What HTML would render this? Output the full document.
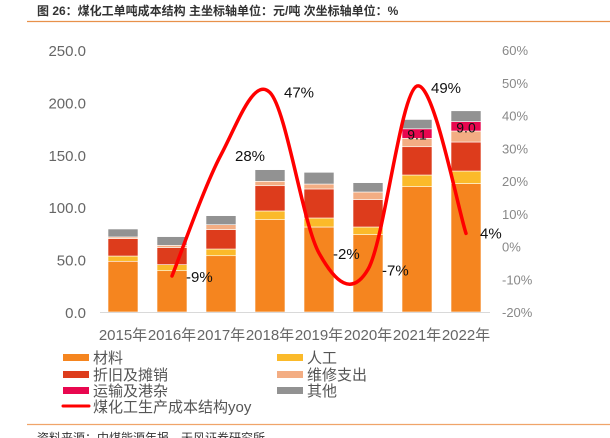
<!DOCTYPE html>
<html><head><meta charset="utf-8"><style>
body{margin:0;background:#fff;width:610px;height:438px;overflow:hidden;font-family:"Liberation Sans","Noto Sans CJK SC",sans-serif}
svg{position:absolute;left:0;top:0}
</style></head><body>
<svg id="c" width="610" height="438">
<text x="37" y="15" font-size="12" font-weight="bold" fill="#333">图 26：煤化工单吨成本结构  主坐标轴单位：元/吨  次坐标轴单位：%</text>
<line x1="27" y1="21.5" x2="610" y2="21.5" stroke="#e8914a" stroke-width="1.2"/>
<line x1="27" y1="424.5" x2="610" y2="424.5" stroke="#f0a46a" stroke-width="1.2"/>
<text x="37" y="442" font-size="12" fill="#333">资料来源：中煤能源年报，天风证券研究所</text>
<g id="g"></g>
</svg>
<script>
const years=["2015年","2016年","2017年","2018年","2019年","2020年","2021年","2022年"];
const material=[48.4,39.4,53.7,88.1,81.1,73.8,119.6,122.5];
const labor=[5,5.8,6.4,8.3,8.6,7.3,11.1,12];
const depreciation=[16.6,16.2,18.5,24.1,27.7,26.1,27,27.7];
const maintenance=[1.6,2.2,4.7,4.2,4.7,7.3,8,10.5];
const transport=[0,0,0,0,0,0,9.1,9.0];
const other=[7.6,8.3,8.6,11.1,11.2,8.9,8.9,10.3];
const yoy=[null,-9,28,47,-2,-7,49,4];
const leftTicks=["0.0","50.0","100.0","150.0","200.0","250.0"];
const rightTicks=["-20%","-10%","0%","10%","20%","30%","40%","50%","60%"];
const NS="http://www.w3.org/2000/svg",g=document.getElementById('g');
function el(t,a,txt){const e=document.createElementNS(NS,t);for(const k in a)e.setAttribute(k,a[k]);if(txt!=null)e.textContent=txt;g.appendChild(e);return e;}
const y0=312,ppu=262/250;
const yL=v=>y0-v*ppu;
const yR=p=>y0-(p+20)*262/80;
const xC=i=>123+i*49;
leftTicks.forEach((t,i)=>{const e=el('text',{x:86,y:yL(i*50)+6,'font-size':15,fill:'#666','text-anchor':'end'},t);

});
rightTicks.forEach((t,i)=>{const e=el('text',{x:502,y:yR(-20+i*10)+5,'font-size':13,fill:'#888'},t);

});
const series=[[material,'#f5851f','material'],[labor,'#fbba2a','labor'],[depreciation,'#dd3c1c','depreciation'],[maintenance,'#f3ad83','maintenance'],[transport,'#e8074f','transport'],[other,'#929292','other']];
years.forEach((y,i)=>{let acc=0;
series.forEach(([arr,col,nm])=>{const v=arr[i];if(!v)return;const r=el('rect',{x:xC(i)-15,y:yL(acc+v),width:30,height:v*ppu,fill:col,stroke:'#fff','stroke-width':0.6});


if(nm==='transport'){const t=el('text',{x:xC(i),y:yL(acc+v/2)+6,'font-size':14,fill:'#111','text-anchor':'middle'},v.toFixed(1));

}
acc+=v;});
const t=el('text',{x:xC(i),y:340,'font-size':15,fill:'#666','text-anchor':'middle'},y);

});
const ax=el('line',{x1:100,y1:y0+0.5,x2:490,y2:y0+0.5,stroke:'#d9d9d9'});


const pts=[];yoy.forEach((v,i)=>{if(v!=null)pts.push([xC(i),yR(v),v]);});
let d='M'+pts[0][0]+','+pts[0][1];
for(let i=0;i<pts.length-1;i++){const p0=pts[Math.max(i-1,0)],p1=pts[i],p2=pts[i+1],p3=pts[Math.min(i+2,pts.length-1)];
const c1=[p1[0]+(p2[0]-p0[0])/6,p1[1]+(p2[1]-p0[1])/6],c2=[p2[0]-(p3[0]-p1[0])/6,p2[1]-(p3[1]-p1[1])/6];
d+=' C'+c1+' '+c2+' '+p2[0]+','+p2[1];}
const ln=el('path',{d:d,fill:'none',stroke:'#ff0000','stroke-width':3.5,'stroke-linecap':'round'});


const off=[[14,1],[14,1],[14,0],[14,1],[14,1],[14,2],[14,0]];
pts.forEach((p,i)=>{const t=el('text',{x:p[0]+off[i][0],y:p[1]+off[i][1]+5,'font-size':15,fill:'#111'},p[2]+'%');

});
const leg=[['材料','#f5851f',63,357],['人工','#fbba2a',277,357],['折旧及摊销','#dd3c1c',63,374],['维修支出','#f3ad83',277,374],['运输及港杂','#e8074f',63,390],['其他','#929292',277,390]];
leg.forEach(([n,c,x,y])=>{const r=el('rect',{x:x,y:y-3,width:26,height:7,fill:c});


const t=el('text',{x:x+30,y:y+6,'font-size':15,fill:'#555'},n);

});
const ll=el('line',{x1:63,y1:406,x2:89,y2:406,stroke:'#ff0000','stroke-width':3,'stroke-linecap':'round'});


const lt=el('text',{x:93,y:412,'font-size':15,fill:'#555'},'煤化工生产成本结构yoy');


</script>
</body></html>
